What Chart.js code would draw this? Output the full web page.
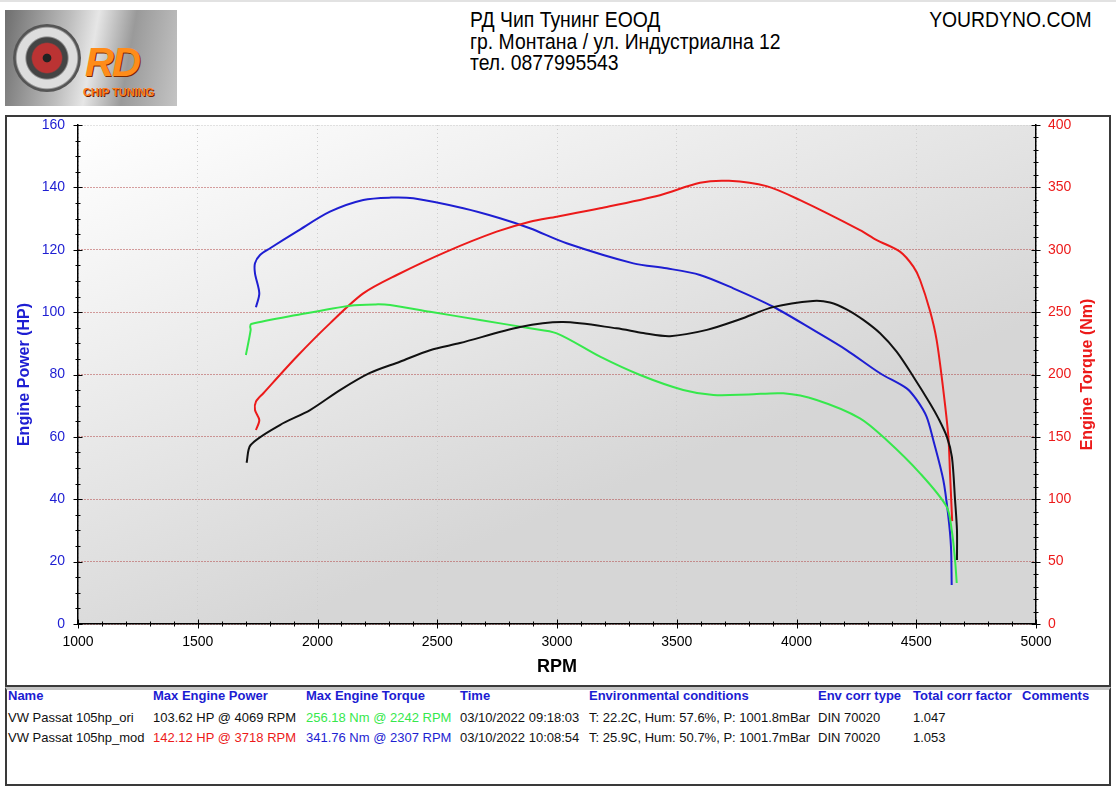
<!DOCTYPE html>
<html>
<head>
<meta charset="utf-8">
<title>Dyno</title>
<script src="https://cdn.jsdelivr.net/npm/chart.js@4"></script>
<style>
  body { margin: 0; width: 1116px; height: 790px; background: #fff; position: relative; overflow: hidden;
         font-family: "Liberation Sans", Arial, sans-serif; }
  .topband { position: absolute; left: 0; top: 0; width: 1116px; height: 2px; background: #e2e2e2; }
  .logo { position: absolute; left: 5px; top: 10px; width: 172px; height: 96px; overflow: hidden;
          background: linear-gradient(100deg, #6e6e6e 0%, #bdbdbd 35%, #e6e6e6 50%, #9a9a9a 70%, #c4c4c4 100%); }
  .logo .turbo { position: absolute; left: 8px; top: 14px; width: 68px; height: 68px; border-radius: 50%;
          background: radial-gradient(circle, #222 0 8%, #b33 10% 30%, #444 33% 42%, #ddd 46% 62%, #555 66% 100%); }
  .logo .rd { position: absolute; left: 80px; top: 30px; font: italic bold 40px "Liberation Sans", Arial;
          color: #ff8c1a; letter-spacing: -2px; text-shadow: 1px 1px 0 #7a2a00; }
  .logo .chip { position: absolute; left: 78px; top: 76px; font: bold 11px "Liberation Sans", Arial;
          color: #ff7a1a; text-shadow: 1px 1px 0 #6a2000; }
  .company { position: absolute; left: 470px; top: 9px; font-size: 22px; line-height: 21.5px; color: #000;
          transform: scaleX(0.88); transform-origin: left top; white-space: nowrap; }
  .site { position: absolute; right: 24px; top: 9px; font-size: 22px; line-height: 21.5px;
          transform: scaleX(0.88); transform-origin: right top; }
  .frame { position: absolute; left: 5px; top: 115px; width: 1106px; height: 572px; box-sizing: border-box;
          border: 2px solid #3a3a3a; }
  .tbl { position: absolute; left: 5px; top: 687px; width: 1106px; height: 99px; box-sizing: border-box;
          border: 2px solid #3a3a3a; border-top: 3px solid #c4c4c4; }
  .cell { position: absolute; font-size: 13px; line-height: 16px; white-space: nowrap; color: #111; }
  .head { font-weight: bold; color: #1c1cd2; }
</style>
</head>
<body>
<div class="topband"></div>
<div class="logo">
  <div class="turbo"></div>
  <div class="rd">RD</div>
  <div class="chip">CHIP TUNING</div>
</div>
<div class="company">РД Чип Тунинг ЕООД<br>гр. Монтана / ул. Индустриална 12<br>тел. 0877995543</div>
<div class="site">YOURDYNO.COM</div>

<div class="frame"><canvas id="dyno" width="1102" height="568"></canvas></div>
<div class="tbl"></div>
<div id="table"></div>

<script>
// x ticks / axis ranges
const rpmTicks = [1000, 1500, 2000, 2500, 3000, 3500, 4000, 4500, 5000];
const hpTicks = [0, 20, 40, 60, 80, 100, 120, 140, 160];
const nmTicks = [0, 50, 100, 150, 200, 250, 300, 350, 400];

// VW Passat 105hp_ori - power (HP)
const oriPowerRpm = [1704, 1721, 1843, 1969, 2094, 2219, 2344, 2470, 2595, 2846, 3025, 3249, 3360, 3472, 3626, 3764, 3902, 4069, 4140, 4209, 4279, 4349, 4418, 4488, 4557, 4592, 4628, 4649, 4662, 4670, 4670];
const oriPowerHp = [51.7, 57.4, 63.8, 68.6, 75.0, 80.5, 84.1, 87.8, 90.1, 95.2, 96.8, 94.8, 93.3, 92.3, 94.3, 97.7, 101.6, 103.6, 103.1, 100.9, 97.5, 93.2, 87.3, 79.3, 70.8, 66.0, 60.0, 53.5, 39.8, 30.1, 20.5];

// VW Passat 105hp_ori - torque (Nm)
const oriTorqueRpm = [1701, 1721, 1719, 1723, 1913, 2136, 2242, 2303, 2470, 2678, 2887, 2999, 3180, 3347, 3527, 3653, 3800, 3945, 4084, 4265, 4376, 4516, 4627, 4648, 4662, 4669];
const oriTorqueNm = [215.6, 235.7, 238.5, 240.5, 247.7, 255.2, 256.2, 255.7, 250.3, 243.7, 237.0, 233.0, 214.3, 199.6, 187.6, 183.6, 184.0, 184.9, 179.6, 164.9, 147.5, 120.8, 94.0, 75.4, 51.3, 32.9];

// VW Passat 105hp_mod - power (HP)
const modPowerRpm = [1743, 1757, 1739, 1743, 1774, 1913, 2052, 2191, 2331, 2539, 2748, 2887, 2999, 3180, 3430, 3597, 3718, 3875, 4015, 4265, 4335, 4432, 4488, 4516, 4557, 4585, 4613, 4634, 4641, 4650];
const modPowerHp = [62.2, 65.4, 68.6, 71.3, 74.0, 85.7, 96.4, 106.0, 111.9, 119.4, 125.8, 129.0, 130.6, 133.3, 137.5, 141.5, 142.1, 140.4, 135.9, 126.3, 123.1, 119.4, 114.6, 110.3, 100.5, 91.1, 75.0, 60.1, 48.3, 33.0];

// VW Passat 105hp_mod - torque (Nm)
const modTorqueRpm = [1743, 1757, 1739, 1739, 1760, 1802, 1913, 2052, 2191, 2307, 2400, 2609, 2762, 2887, 3040, 3319, 3458, 3597, 3736, 3903, 4070, 4209, 4349, 4460, 4502, 4543, 4571, 4613, 4634, 4645, 4648];
const modTorqueNm = [253.9, 265.1, 281.1, 289.1, 295.8, 301.2, 314.5, 330.5, 339.9, 341.8, 341.2, 333.2, 325.2, 317.2, 305.2, 289.1, 285.1, 279.8, 269.1, 254.3, 235.7, 219.6, 201.0, 188.9, 179.6, 166.2, 147.5, 115.4, 86.0, 62.0, 31.3];

// results table
const tableHeaders = ["Name", "Max Engine Power", "Max Engine Torque", "Time", "Environmental conditions", "Env corr type", "Total corr factor", "Comments"];
const runNames = ["VW Passat 105hp_ori", "VW Passat 105hp_mod"];
const runPower = ["103.62 HP @ 4069 RPM", "142.12 HP @ 3718 RPM"];
const runTorque = ["256.18 Nm @ 2242 RPM", "341.76 Nm @ 2307 RPM"];
const runTime = ["03/10/2022 09:18:03", "03/10/2022 10:08:54"];
const runEnv = ["T: 22.2C, Hum: 57.6%, P: 1001.8mBar", "T: 25.9C, Hum: 50.7%, P: 1001.7mBar"];
const runCorrType = ["DIN 70020", "DIN 70020"];
const runCorrFactor = ["1.047", "1.053"];

const BLUE = "#1e1ed2";
const RED = "#ec1a1a";
const GREEN = "#36e84c";
const BLACK = "#111111";

function toPoints(xs, ys) {
  return xs.map((x, i) => ({ x, y: ys[i] }));
}

function buildTable() {
  const cols = [8, 153, 306, 460, 589, 818, 913, 1022];
  const rows = [
    [runNames[0], runPower[0], runTorque[0], runTime[0], runEnv[0], runCorrType[0], runCorrFactor[0], ""],
    [runNames[1], runPower[1], runTorque[1], runTime[1], runEnv[1], runCorrType[1], runCorrFactor[1], ""]
  ];
  const colors = [
    [null, BLACK, GREEN, null, null, null, null, null],
    [null, RED, BLUE, null, null, null, null, null]
  ];
  let html = tableHeaders.map((h, i) =>
    `<div class="cell head" style="left:${cols[i]}px;top:688px">${h}</div>`).join("");
  rows.forEach((r, ri) => {
    r.forEach((txt, ci) => {
      const c = colors[ri][ci] ? `color:${colors[ri][ci]};` : "";
      html += `<div class="cell" style="left:${cols[ci]}px;top:${710 + ri * 20}px;${c}">${txt}</div>`;
    });
  });
  document.getElementById("table").innerHTML = html;
}

// grey gradient behind the plot
const plotBackground = {
  id: "plotBackground",
  beforeDraw(chart) {
    const { ctx, chartArea: a } = chart;
    const g = ctx.createLinearGradient(a.left, a.top, a.left + 200, a.bottom);
    g.addColorStop(0, "#ffffff");
    g.addColorStop(1, "#d6d6d6");
    ctx.save();
    ctx.fillStyle = g;
    ctx.fillRect(a.left, a.top, a.right - a.left, a.bottom - a.top);
    ctx.restore();
  }
};

// small tick marks crossing the axes, plus the right-hand title
const axisDecor = {
  id: "axisDecor",
  afterDraw(chart) {
    const { ctx, chartArea: a, scales } = chart;
    ctx.save();
    ctx.strokeStyle = "#000";
    ctx.lineWidth = 1;
    ctx.beginPath();
    for (let v = 1000; v <= 5000; v += 100) {
      const x = Math.round(scales.x.getPixelForValue(v)) + 0.5;
      const len = v % 500 === 0 ? 4.5 : 2.5;
      ctx.moveTo(x, a.bottom - len);
      ctx.lineTo(x, a.bottom + len);
    }
    for (let v = 0; v <= 160; v += 5) {
      const y = Math.round(scales.yHp.getPixelForValue(v)) + 0.5;
      const len = v % 20 === 0 ? 4.5 : 2.5;
      ctx.moveTo(a.left - len, y);
      ctx.lineTo(a.left + len, y);
    }
    for (let v = 0; v <= 400; v += 10) {
      const y = Math.round(scales.yNm.getPixelForValue(v)) + 0.5;
      const len = v % 50 === 0 ? 4.5 : 2.5;
      ctx.moveTo(a.right - len, y);
      ctx.lineTo(a.right + len, y);
    }
    ctx.stroke();

    ctx.translate(1081, (a.top + a.bottom) / 2);
    ctx.rotate(-Math.PI / 2);
    ctx.fillStyle = RED;
    ctx.font = "bold 16px 'Liberation Sans', Arial";
    ctx.textAlign = "center";
    ctx.textBaseline = "middle";
    ctx.fillText("Engine Torque (Nm)", 0, 0);
    ctx.restore();
  }
};

function lineSet(label, xs, ys, color, axis) {
  return {
    label,
    data: toPoints(xs, ys),
    yAxisID: axis,
    borderColor: color,
    backgroundColor: color,
    borderWidth: 2,
    showLine: true,
    pointRadius: 0,
    tension: 0.3
  };
}

function fitY(width) {
  return s => {
    s.width = width;
    s.paddingTop = 0;
    s.paddingBottom = 0;
  };
}

function renderDyno() {
  const ctx = document.getElementById("dyno").getContext("2d");
  new Chart(ctx, {
    type: "scatter",
    data: {
      datasets: [
        lineSet("Power ori", oriPowerRpm, oriPowerHp, BLACK, "yHp"),
        lineSet("Torque ori", oriTorqueRpm, oriTorqueNm, GREEN, "yNm"),
        lineSet("Power mod", modPowerRpm, modPowerHp, RED, "yHp"),
        lineSet("Torque mod", modTorqueRpm, modTorqueNm, BLUE, "yNm")
      ]
    },
    options: {
      responsive: false,
      animation: false,
      layout: { padding: { top: 8, left: 0, right: 0, bottom: 0 } },
      plugins: { legend: { display: false }, tooltip: { enabled: false } },
      scales: {
        x: {
          type: "linear",
          min: rpmTicks[0],
          max: rpmTicks[rpmTicks.length - 1],
          afterBuildTicks: s => { s.ticks = rpmTicks.map(v => ({ value: v })); },
          afterFit: s => { s.height = 61; s.paddingLeft = 0; s.paddingRight = 0; },
          ticks: { color: "#000", font: { size: 14, family: "Liberation Sans" }, padding: 10, maxRotation: 0, callback: v => String(v) },
          grid: { color: "#cdcdcd", drawTicks: false },
          border: { display: true, color: "#000", width: 1.5, dash: [1, 3] },
          title: { display: true, text: "RPM", color: "#000", font: { size: 18, weight: "bold", family: "Liberation Sans" }, padding: { top: 0, bottom: 7 } }
        },
        yHp: {
          type: "linear",
          position: "left",
          min: hpTicks[0],
          max: hpTicks[hpTicks.length - 1],
          afterBuildTicks: s => { s.ticks = hpTicks.map(v => ({ value: v })); },
          afterFit: fitY(71),
          ticks: { color: BLUE, font: { size: 14, family: "Liberation Sans" }, padding: 13, callback: v => String(v) },
          grid: { color: c => c.tick && c.tick.value === 160 ? "#c8c8c8" : "#b04040", drawTicks: false },
          border: { display: true, color: "#000", width: 1.5, dash: [1, 2] },
          title: { display: true, text: "Engine Power (HP)", color: BLUE, font: { size: 16, weight: "bold", family: "Liberation Sans" }, padding: { top: 8, bottom: 0 } }
        },
        yNm: {
          type: "linear",
          position: "right",
          min: nmTicks[0],
          max: nmTicks[nmTicks.length - 1],
          afterBuildTicks: s => { s.ticks = nmTicks.map(v => ({ value: v })); },
          afterFit: fitY(73),
          ticks: { color: RED, font: { size: 14, family: "Liberation Sans" }, padding: 12, callback: v => String(v) },
          grid: { display: false, drawTicks: false },
          border: { display: true, color: "#000", width: 1.5 }
        }
      }
    },
    plugins: [plotBackground, axisDecor]
  });
}

buildTable();
renderDyno();
</script>
</body>
</html>
